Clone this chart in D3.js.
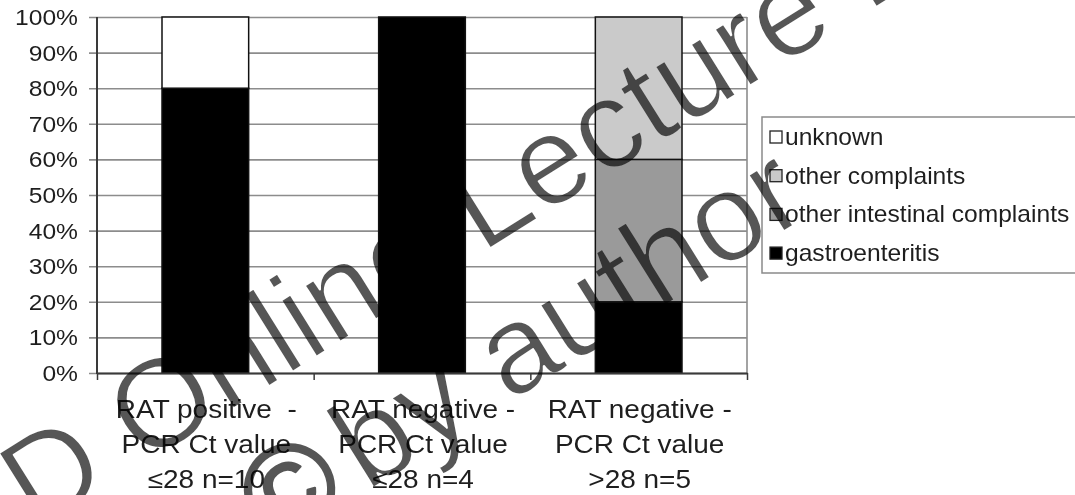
<!DOCTYPE html>
<html>
<head>
<meta charset="utf-8">
<script src="https://cdn.jsdelivr.net/npm/d3@7"></script>
<style>
  html, body { margin: 0; padding: 0; background: #fff; }
  svg { display: block; font-family: "Liberation Sans", Arial, Helvetica, sans-serif; }
  .wm { mix-blend-mode: multiply; }
</style>
</head>
<body>
<svg id="chart" width="1075" height="495"></svg>
<script>
// Category labels, one entry per line of each label
const categoryLines = [
  ["RAT positive  -", "PCR Ct value", "\u226428 n=10"],
  ["RAT negative -", "PCR Ct value", "\u226428 n=4"],
  ["RAT negative -", "PCR Ct value", ">28 n=5"]
];

// Share of patients per complaint (percent), one value per category
const gastroenteritis = [80, 100, 20];
const otherIntestinal = [0, 0, 40];
const otherComplaints = [0, 0, 40];
const unknown = [20, 0, 0];

// Series names, in stacking order from the bottom up
const seriesKeys = ["gastroenteritis", "other intestinal complaints", "other complaints", "unknown"];
const seriesFill = {
  "gastroenteritis": "#000000",
  "other intestinal complaints": "#9a9a9a",
  "other complaints": "#cacaca",
  "unknown": "#ffffff"
};
// Legend lists the series from the top of the stack down
const legendOrder = ["unknown", "other complaints", "other intestinal complaints", "gastroenteritis"];

const yTickValues = [0, 10, 20, 30, 40, 50, 60, 70, 80, 90, 100];
const yTickLabels = ["0%", "10%", "20%", "30%", "40%", "50%", "60%", "70%", "80%", "90%", "100%"];

// Table for the stack layout
const table = categoryLines.map((_, i) => ({
  idx: i,
  "gastroenteritis": gastroenteritis[i],
  "other intestinal complaints": otherIntestinal[i],
  "other complaints": otherComplaints[i],
  "unknown": unknown[i]
}));

const svg = d3.select("#chart");
const plot = { left: 97, right: 747, top: 17, bottom: 373 };
const textColor = "#1e1e1e";
const gridColor = "#8c8c8c";
const axisColor = "#3a3a3a";

const x = d3.scaleBand()
  .domain(d3.range(categoryLines.length))
  .range([plot.left, plot.right])
  .paddingInner(0.6)
  .paddingOuter(0.3);

const y = d3.scaleLinear().domain([0, 100]).range([plot.bottom, plot.top]);

// Horizontal gridlines with short ticks left of the axis
const gridAxis = d3.axisLeft(y)
  .tickValues(yTickValues)
  .tickSize(plot.right - (plot.left - 8))
  .tickFormat("");
const grid = svg.append("g")
  .attr("transform", `translate(${plot.right},0)`)
  .call(gridAxis);
grid.select(".domain").remove();
grid.selectAll(".tick line")
  .attr("stroke", gridColor)
  .attr("stroke-width", 1.6);

// Right border of the plot area
svg.append("line")
  .attr("x1", plot.right).attr("x2", plot.right)
  .attr("y1", plot.top).attr("y2", plot.bottom)
  .attr("stroke", gridColor).attr("stroke-width", 1.6);

// Stacked bars
const stacked = d3.stack().keys(seriesKeys)(table);
svg.append("g")
  .selectAll("g")
  .data(stacked)
  .join("g")
  .attr("fill", d => seriesFill[d.key])
  .selectAll("rect")
  .data(d => d.filter(s => s[1] - s[0] > 0))
  .join("rect")
  .attr("x", d => x(d.data.idx))
  .attr("width", x.bandwidth())
  .attr("y", d => y(d[1]))
  .attr("height", d => y(d[0]) - y(d[1]))
  .attr("stroke", "#111")
  .attr("stroke-width", 1.5);

// Value axis line
svg.append("line")
  .attr("x1", plot.left).attr("x2", plot.left)
  .attr("y1", plot.top).attr("y2", plot.bottom + 1)
  .attr("stroke", axisColor).attr("stroke-width", 2);

// Category axis with ticks on the category boundaries
const boundary = d3.scaleLinear().domain([0, categoryLines.length]).range([plot.left, plot.right]);
const catAxis = svg.append("g")
  .attr("transform", `translate(0,${plot.bottom})`)
  .call(d3.axisBottom(boundary).tickValues(d3.range(categoryLines.length + 1)).tickSize(7).tickFormat("").tickSizeOuter(0));
catAxis.select(".domain").attr("stroke", axisColor).attr("stroke-width", 2);
catAxis.selectAll(".tick line").attr("stroke", axisColor).attr("stroke-width", 1.5);

// Stretched text helper
function label(g, txt, px, py, size, anchor, sx) {
  return g.append("text")
    .attr("transform", `translate(${px},${py}) scale(${sx},1)`)
    .attr("text-anchor", anchor)
    .attr("font-size", size)
    .attr("fill", textColor)
    .style("white-space", "pre")
    .text(txt);
}

// Y tick labels
const yLab = svg.append("g");
yTickValues.forEach((v, i) => {
  label(yLab, yTickLabels[i], 78, y(v) + 8, 22, "end", 1.12);
});

// Category labels
const xLab = svg.append("g");
categoryLines.forEach((lines, i) => {
  const cx = x(i) + x.bandwidth() / 2 + 1;
  lines.forEach((ln, j) => {
    label(xLab, ln, cx, 418 + j * 35, 25, "middle", 1.12);
  });
});

// Legend
const legend = svg.append("g");
legend.append("rect")
  .attr("x", 762).attr("y", 117)
  .attr("width", 340).attr("height", 156)
  .attr("fill", "#fff")
  .attr("stroke", "#8a8a8a").attr("stroke-width", 1.5);
legendOrder.forEach((key, i) => {
  const cy = 137 + i * 38.7;
  legend.append("rect")
    .attr("x", 770).attr("y", cy - 6)
    .attr("width", 12).attr("height", 12)
    .attr("fill", seriesFill[key])
    .attr("stroke", "#222").attr("stroke-width", 1.3);
  label(legend, key, 785, cy + 8, 23, "start", 1.07);
});

// Watermark across the chart; a white outline slightly thins the glyphs
const wmAngle = -32;
const wmColor = "#565656";
const wm = svg.append("g").attr("class", "wm")
  .attr("font-size", 126)
  .attr("fill", wmColor)
  .attr("stroke-linejoin", "round");
const wm1 = wm.append("g").attr("transform", `translate(36,532) rotate(${wmAngle})`)
  .attr("stroke", "#fff").attr("stroke-width", 2);
wm1.append("text").attr("text-anchor", "end").text("ESCMI");
wm1.append("text").attr("text-anchor", "start").text("D Online Lecture Library");
const wm2 = wm.append("g").attr("transform", `translate(258,560) rotate(${wmAngle})`);
// copyright sign drawn with a slightly heavier outline
wm2.append("text").attr("text-anchor", "start")
  .attr("x", 18)
  .attr("stroke", wmColor).attr("stroke-width", 2.5)
  .text("\u00a9");
wm2.append("text").attr("text-anchor", "start")
  .attr("x", 128)
  .attr("stroke", "#fff").attr("stroke-width", 2)
  .text("by author");
</script>
</body>
</html>
